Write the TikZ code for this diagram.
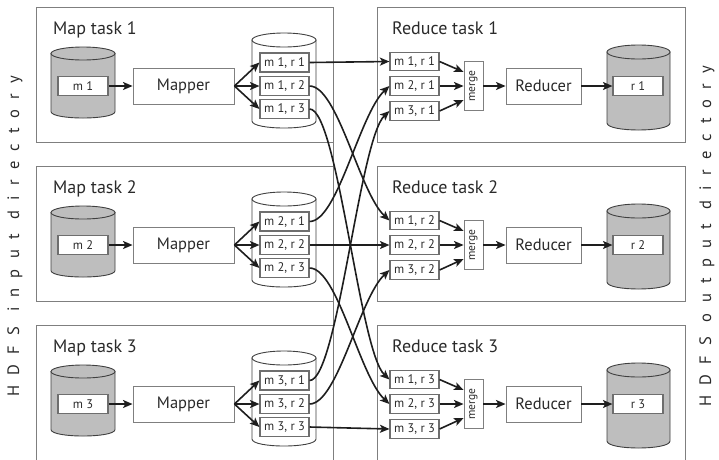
\documentclass[tikz,border=0pt]{standalone}
\usepackage{fontspec}
\usepackage{graphicx}
\setmainfont{PT Sans}
\newfontfamily\spacedfont[LetterSpace=62]{PT Sans}
\usetikzlibrary{arrows.meta}

\definecolor{framegray}{HTML}{7F7F7F}
\definecolor{boxgray}{HTML}{6E6E6E}
\definecolor{drumgray}{HTML}{BEBEBE}
\definecolor{inkdark}{HTML}{1E1E1E}
\definecolor{textdark}{HTML}{2A2A2A}

% storage drum: left x, right x, y of top ellipse, y of bottom ellipse, ellipse half-height, fill
\newcommand\drum[6]{%
  \draw[drumline, fill=#6] (#1,#3) -- (#1,#4)
    .. controls (#1,{#4+4/3*#5}) and (#2,{#4+4/3*#5}) .. (#2,#4) -- (#2,#3) -- cycle;
  \draw[drumline, fill=#6] ({(#1+#2)/2},#3) ellipse [x radius={(#2-#1)/2}, y radius=#5];
}

\begin{document}
\begin{tikzpicture}[x=1pt,y=-1pt,
  every node/.style={text=textdark, inner sep=0pt},
  task/.style={draw=framegray, line width=0.9pt, fill=white},
  tasktitle/.style={anchor=base west, font=\fontsize{18}{20}\selectfont},
  slot/.style={draw=boxgray, line width=1.1pt, fill=white, minimum width=49pt,
    minimum height=19pt, font=\fontsize{12.5}{13}\selectfont},
  worker/.style={draw=framegray, line width=0.9pt, fill=white, minimum height=36pt,
    font=\fontsize{16.5}{18}\selectfont},
  mergebox/.style={draw=framegray, line width=0.9pt, fill=white, minimum width=19pt,
    minimum height=49pt, font=\fontsize{11.5}{12}\selectfont},
  drumline/.style={draw=black!75, line width=0.9pt},
  flow/.style={draw=inkdark, line width=1.6pt,
    -{Stealth[length=9.5pt,width=8pt,inset=2.2pt]}},
  sidelabel/.style={rotate=90, font=\spacedfont\fontsize{16.5}{18}\selectfont},
]
\useasboundingbox (0,0) rectangle (719,459);
\clip (0,0) rectangle (719,459);

\foreach \i/\R in {1/86,2/245,3/404} {
  % map task
  \draw[task] (36,\R-79) rectangle (333,\R+56);
  \node[tasktitle] (mt\i) at (53,\R-52) {Map task \i};
  \drum{51}{115}{\R-32.5}{\R+25.5}{6.5}{drumgray}
  \node[slot, minimum width=50pt] (in\i) at (83,\R) {m \i};
  \node[worker, minimum width=101pt] (mapper\i) at (183.5,\R) {Mapper};
  \drum{252}{316}{\R-46}{\R+35}{7}{white}
  \foreach \j/\d in {1/-23.5,2/0,3/23}
    \node[slot] (p\i\j) at (284.5,{\R+(\d)}) {m \i, r \j};
  \draw[flow] (in\i.east) -- (mapper\i.west);
  \foreach \j in {1,2,3}
    \draw[flow] (mapper\i.east) -- (p\i\j.west);

  % reduce task
  \draw[task] (377,\R-79) rectangle (685,\R+56);
  \node[tasktitle] (rt\i) at (392,\R-52) {Reduce task \i};
  \foreach \j/\d in {1/-24.5,2/0,3/25}
    \node[slot, minimum height=18.5pt] (q\j\i) at (414.5,{\R+(\d)}) {m \j, r \i};
  \node[mergebox] (mg\i) at (473.5,\R) {\rotatebox{90}{merge}};
  \node[worker, minimum width=75pt] (red\i) at (543.5,\R) {Reducer};
  \drum{607}{670}{\R-34}{\R+37}{7}{drumgray}
  \node[slot, minimum width=50pt] (out\i) at (638,\R) {r \i};
  \draw[flow] (q1\i.east) -- ([yshift=14pt]mg\i.west);
  \draw[flow] (q2\i.east) -- (mg\i.west);
  \draw[flow] (q3\i.east) -- ([yshift=-14pt]mg\i.west);
  \draw[flow] (mg\i.east) -- (red\i.west);
  \draw[flow] (red\i.east) -- (out\i.west);
}

% divider along the map side
\draw[draw=framegray, line width=0.9pt] (333,7) -- (333,460);

% shuffle: every map output goes to its reduce task
\foreach \i in {1,2,3} {
  \foreach \j in {1,2,3} {
    \ifnum\i=\j
      \draw[flow] (p\i\j.east) -- (q\i\j.west);
    \else\ifnum\i<\j
      \draw[flow] (p\i\j.east) .. controls +(28,0) and +(-30,-28) .. (q\i\j.west);
    \else
      \draw[flow] (p\i\j.east) .. controls +(28,0) and +(-30,28) .. (q\i\j.west);
    \fi\fi
  }
}

\node[sidelabel] (hdfsin) at (15,236) {HDFS input directory};
\node[sidelabel] (hdfsout) at (707,236) {HDFS output directory};
\end{tikzpicture}
\end{document}
